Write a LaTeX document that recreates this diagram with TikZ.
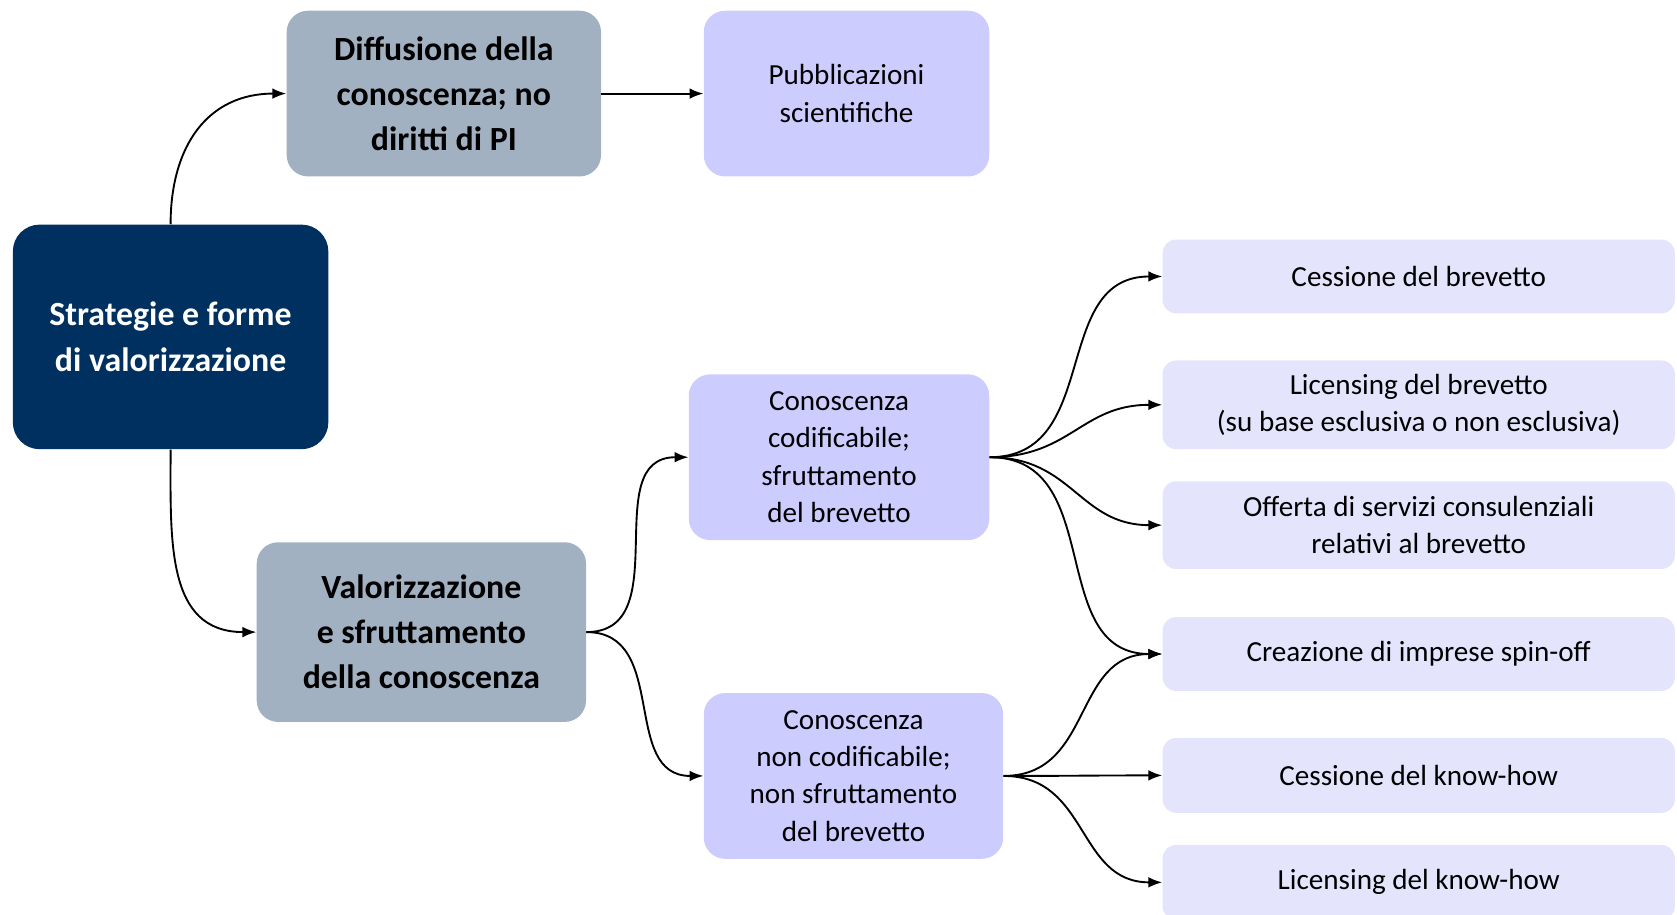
\documentclass[tikz,border=0pt]{standalone}
\usepackage{fontspec}
\setmainfont{Carlito}
\usepackage{xcolor}
\usetikzlibrary{arrows.meta}
\definecolor{navyblue}{RGB}{0,48,96}
\definecolor{slategray}{RGB}{162,177,193}
\definecolor{lavender}{RGB}{204,204,255}
\definecolor{palelavender}{RGB}{228,228,252}

\begin{document}
\begin{tikzpicture}[x=0.02cm, y=-0.02cm,
    rootbox/.style={fill=navyblue, text=white, rounded corners=0.5cm, align=center, font=\bfseries\fontsize{18}{24.5}\selectfont},
    graybox/.style={fill=slategray, rounded corners=0.4cm, align=center, font=\bfseries\fontsize{18}{24}\selectfont},
    midbox/.style={fill=lavender, rounded corners=0.4cm, align=center, font=\fontsize{15.5}{19.8}\selectfont},
    leafbox/.style={fill=palelavender, rounded corners=0.25cm, align=center, minimum width=9.58cm, font=\fontsize{15.5}{19.5}\selectfont},
    link/.style={-{Latex[length=2.6mm,width=2mm]}, line width=1pt, looseness=1.15}]
      \useasboundingbox (0,0) rectangle (1568,855);

      % first level
      \node[rootbox, minimum width=5.9cm, minimum height=4.2cm] (strategie) at (159.5,315) {Strategie e forme\\di valorizzazione};

      \node[graybox, minimum width=5.88cm, minimum height=3.1cm] (diffusione) at (415,87.5) {Diffusione della\\conoscenza; no\\diritti di PI};
      \node[graybox, minimum width=6.16cm, minimum height=3.36cm] (valorizzazione) at (394,591) {Valorizzazione\\e sfruttamento\\della conoscenza};

      % second level
      \node[midbox, minimum width=5.34cm, minimum height=3.1cm] (pubblicazioni) at (791.5,87.5) {Pubblicazioni\\scientifiche};
      \node[midbox, minimum width=5.62cm, minimum height=3.1cm] (codificabile) at (784.5,427.5) {Conoscenza\\codificabile;\\sfruttamento\\del brevetto};
      \node[midbox, minimum width=5.6cm, minimum height=3.1cm] (noncodificabile) at (798,725.5) {Conoscenza\\non codificabile;\\non sfruttamento\\del brevetto};

      % forms of exploitation
      \node[leafbox, minimum height=1.38cm] (cessionebrev) at (1326.5,258.5) {Cessione del brevetto};
      \node[leafbox, minimum height=1.66cm] (licensingbrev) at (1326.5,378.5) {Licensing del brevetto\\(su base esclusiva o non esclusiva)};
      \node[leafbox, minimum height=1.64cm] (offerta) at (1326.5,491) {Offerta di servizi consulenziali\\relativi al brevetto};
      \node[leafbox, minimum height=1.38cm] (spinoff) at (1326.5,611.5) {Creazione di imprese spin-off};
      \node[leafbox, minimum height=1.4cm] (cessionekh) at (1326.5,725) {Cessione del know-how};
      \node[leafbox, minimum height=1.4cm] (licensingkh) at (1326.5,825) {Licensing del know-how};

      \draw[link] (strategie.north) to[out=90, in=180] (diffusione.west);
      \draw[link] (strategie.south) to[out=-90, in=180] (valorizzazione.west);
      \draw[link] (diffusione) -- (pubblicazioni);
      \draw[link] (valorizzazione.east) to[out=0, in=180] (codificabile.west);
      \draw[link] (valorizzazione.east) to[out=0, in=180] (noncodificabile.west);

      \foreach \leaf in {cessionebrev, licensingbrev, offerta, spinoff}
        \draw[link] (codificabile.east) to[out=0, in=180] (\leaf.west);
      \foreach \leaf in {spinoff, cessionekh, licensingkh}
        \draw[link] (noncodificabile.east) to[out=0, in=180] (\leaf.west);
    \end{tikzpicture}
\end{document}
